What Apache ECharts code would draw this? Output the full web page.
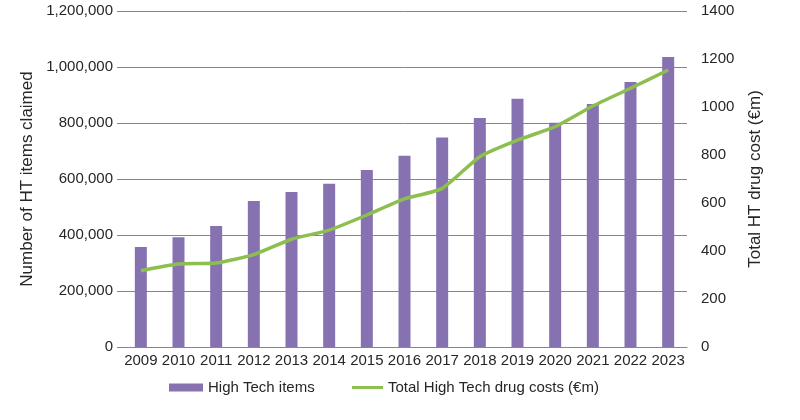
<!DOCTYPE html>
<html>
<head>
<meta charset="utf-8">
<script src="https://cdn.jsdelivr.net/npm/echarts@6/dist/echarts.min.js"></script>
<style>
	html, body { margin: 0; padding: 0; background: #fff; }
	#chart { width: 800px; height: 420px; }
</style>
</head>
<body>
<div id="chart"></div>
<script>
const years = ["2009", "2010", "2011", "2012", "2013", "2014", "2015", "2016", "2017", "2018", "2019", "2020", "2021", "2022", "2023"];
const htItems = [357000, 392000, 432000, 521000, 554000, 583000, 632000, 683000, 748000, 818000, 887000, 801000, 868000, 946000, 1036000];
const htCosts = [318, 346, 350, 385, 449, 487, 550, 617, 661, 793, 862, 918, 1004, 1078, 1154];

const font = "Liberation Sans, Arial, sans-serif";
const textColor = "#262626";
const barColor = "#8672b0";
const lineColor = "#8dbf4f";
const legendText = { fontFamily: font, fontSize: 15, color: textColor };

const chart = echarts.init(document.getElementById("chart"));
chart.setOption({
	animation: false,
	textStyle: { fontFamily: font },
	grid: { left: 122, right: 113, top: 11, bottom: 73 },
	legend: [
		{
			left: 169,
			top: 380,
			padding: 0,
			itemWidth: 34,
			itemHeight: 8,
			itemGap: 6,
			textStyle: legendText,
			data: [{ name: "High Tech items", icon: "rect" }]
		},
		{
			left: 352,
			top: 380,
			padding: 0,
			itemWidth: 31,
			itemHeight: 3,
			textStyle: legendText,
			data: [{ name: "Total High Tech drug costs (€m)", icon: "rect" }]
		}
	],
	xAxis: {
		type: "category",
		data: years,
		axisTick: { show: false },
		axisLine: { lineStyle: { color: "#868686", width: 1 } },
		axisLabel: { color: textColor, fontSize: 15, margin: 6, interval: 0 }
	},
	yAxis: [
		{
			type: "value",
			min: 0,
			max: 1200000,
			interval: 200000,
			name: "Number of HT items claimed",
			nameLocation: "middle",
			nameGap: 86,
			nameTextStyle: { fontSize: 17, color: textColor, fontFamily: font },
			axisLine: { show: false },
			axisTick: { show: true, length: 5, lineStyle: { color: "#868686" } },
			axisLabel: {
				color: textColor,
				fontSize: 15,
				margin: 9,
				formatter: v => v.toLocaleString("en-US")
			},
			splitLine: { lineStyle: { color: "#868686", width: 1 } }
		},
		{
			type: "value",
			min: 0,
			max: 1400,
			interval: 200,
			name: "Total HT drug cost (€m)",
			nameLocation: "middle",
			nameGap: 60,
			nameTextStyle: { fontSize: 17, color: textColor, fontFamily: font },
			axisLine: { show: false },
			axisTick: { show: false },
			axisLabel: { color: textColor, fontSize: 15, margin: 14, formatter: v => String(v) },
			splitLine: { show: false }
		}
	],
	series: [
		{
			name: "High Tech items",
			type: "bar",
			data: htItems,
			barWidth: 12,
			itemStyle: { color: barColor }
		},
		{
			name: "Total High Tech drug costs (€m)",
			type: "line",
			yAxisIndex: 1,
			data: htCosts,
			smooth: 0.2,
			symbol: "none",
			lineStyle: { color: lineColor, width: 3.5 },
			itemStyle: { color: lineColor }
		}
	]
});
</script>
</body>
</html>
